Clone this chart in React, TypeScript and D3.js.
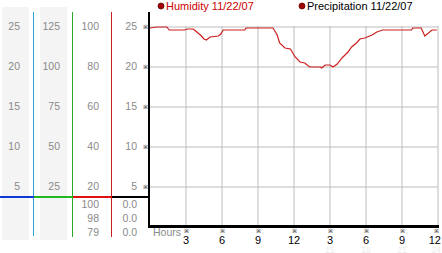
import React from "react";
import * as d3 from "d3";

const hours = [0, 0.6, 1.4, 1.6, 2.9, 3.1, 3.6, 3.8, 4.2, 4.5, 4.7, 5.0, 5.7, 5.9, 6.1, 7.9, 8.0, 10.25, 10.6, 10.8, 11.25, 11.7, 12.1, 12.5, 12.9, 13.3, 14.2, 14.3, 14.6, 15.0, 15.25, 15.6, 16.0, 16.25, 16.5, 16.8, 17.2, 17.5, 17.9, 18.5, 18.9, 19.4, 21.8, 21.9, 22.6, 22.9, 23.5, 23.9];
const humidity = [99.5, 100, 100, 98.5, 98.5, 99, 99, 98, 96, 94, 93.5, 95, 95.5, 96.5, 98.5, 98.5, 99.5, 99.5, 96, 92, 89.5, 89, 85, 82.5, 82, 80, 80, 79.5, 81, 81, 80, 81.5, 84.5, 86, 87.5, 90, 92, 94, 94.5, 96, 97.5, 98.5, 98.5, 99.5, 99.5, 95.5, 98.5, 98.5];

const col1Ticks = [25, 20, 15, 10, 5];
const col2Ticks = [125, 100, 75, 50, 25];
const col3Ticks = [100, 80, 60, 40, 20];
const col4Ticks = [25, 20, 15, 10, 5];
const col3Current = ["100", "98", "79"];
const col4Current = ["0.0", "0.0", "0.0"];
const xTicks = [3, 6, 9, 12, 15, 18, 21, 24];
const legendItems = ["Humidity 11/22/07", "Precipitation 11/22/07"];

export default function App() {
  const x = d3.scaleLinear().domain([0, 24]).range([150, 438]);
  const y = d3.scaleLinear().domain([0, 25]).range([227, 27]);
  const yH = d3.scaleLinear().domain([0, 100]).range([227, 27]);
  const line = d3
    .line<number>()
    .x((_, i) => x(hours[i]))
    .y((d) => yH(d))
    .curve(d3.curveLinear);

  const font = "'Liberation Sans', Arial, sans-serif";
  const gray = "#8a8a8a";

  return (
    <svg
      width={442}
      height={253}
      style={{ position: "absolute", left: 0, top: 0, background: "#fff" }}
      fontFamily={font}
    >
      {/* column backgrounds */}
      <rect x={2} y={7} width={27} height={233} fill="#f4f4f4" />
      <rect x={40} y={7} width={27} height={233} fill="#f4f4f4" />

      {/* vertical colored lines */}
      <line x1={33.5} x2={33.5} y1={12} y2={236} stroke="#2e9fd0" strokeWidth={1} />
      <line x1={72.5} x2={72.5} y1={12} y2={237} stroke="#2aa82a" strokeWidth={1} />
      <line x1={111.5} x2={111.5} y1={12} y2={237} stroke="#c82020" strokeWidth={1} />

      {/* horizontal separator */}
      <line x1={0} x2={34} y1={197} y2={197} stroke="#1038d8" strokeWidth={2} />
      <line x1={34} x2={73} y1={197} y2={197} stroke="#22b822" strokeWidth={2} />
      <line x1={73} x2={112} y1={197} y2={197} stroke="#e01010" strokeWidth={2} />
      <line x1={112} x2={150} y1={197} y2={197} stroke="#000" strokeWidth={2} />

      {/* tick labels */}
      {col1Ticks.map((t) => (
        <text key={"c1" + t} x={20} y={y(t) + 3} fontSize={10.5} fill={gray} textAnchor="end">{t}</text>
      ))}
      {col2Ticks.map((t, i) => (
        <text key={"c2" + t} x={60} y={y(col1Ticks[i]) + 3} fontSize={10.5} fill={gray} textAnchor="end">{t}</text>
      ))}
      {col3Ticks.map((t) => (
        <text key={"c3" + t} x={99} y={yH(t) + 3} fontSize={10.5} fill={gray} textAnchor="end">{t}</text>
      ))}
      {col4Ticks.map((t) => (
        <g key={"c4" + t}>
          <text x={137} y={y(t) + 3} fontSize={10.5} fill={gray} textAnchor="end">{t}</text>
          <text x={145} y={y(t) + 2} fontSize={6} fill="#000" textAnchor="middle">※</text>
        </g>
      ))}
      {col3Current.map((t, i) => (
        <text key={"cc3" + i} x={99} y={208 + i * 14} fontSize={10.5} fill={gray} textAnchor="end">{t}</text>
      ))}
      {col4Current.map((t, i) => (
        <text key={"cc4" + i} x={137} y={208 + i * 14} fontSize={10.5} fill={gray} textAnchor="end">{t}</text>
      ))}

      {/* grid */}
      {col4Ticks.map((t) => (
        <line key={"gh" + t} x1={150} x2={438} y1={y(t)} y2={y(t)} stroke="#bdbdbd" strokeWidth={1} />
      ))}
      {xTicks.map((h) => (
        <line key={"gv" + h} x1={x(h)} x2={x(h)} y1={26} y2={226} stroke="#bdbdbd" strokeWidth={1} />
      ))}

      {/* axes */}
      <line x1={149} x2={149} y1={12} y2={228} stroke="#000" strokeWidth={2} />
      <line x1={148} x2={439} y1={226.5} y2={226.5} stroke="#000" strokeWidth={3} />

      {/* x labels */}
      <text x={153} y={236} fontSize={10.5} fill={gray}>Hours</text>
      {xTicks.map((h) => {
        const last = h === 24;
        const lx = last ? 441 : x(h);
        const anchor = last ? "end" : "middle";
        return (
          <g key={"xl" + h}>
            <text x={last ? 436 : x(h)} y={233} fontSize={6} fill="#000" textAnchor="middle">※</text>
            <text x={lx} y={243.5} fontSize={11} fill="#000" textAnchor={anchor}>{h <= 12 ? h : h - 12}</text>
            {h > 12 && (
              <text x={lx} y={252.5} fontSize={8.5} fill="#ececec" textAnchor={anchor}>{h}</text>
            )}
          </g>
        );
      })}

      {/* data line */}
      <path d={line(humidity) || ""} fill="none" stroke="#cc1f1f" strokeWidth={1.2} />

      {/* legend */}
      <circle cx={161} cy={6} r={3} fill="#a00000" stroke="#600" strokeWidth={0.8} />
      <text x={166} y={10} fontSize={11} fill="#cc0000">{legendItems[0]}</text>
      <circle cx={302} cy={6} r={3} fill="#a00000" stroke="#600" strokeWidth={0.8} />
      <text x={307} y={10} fontSize={11} fill="#000">{legendItems[1]}</text>
    </svg>
  );
}
